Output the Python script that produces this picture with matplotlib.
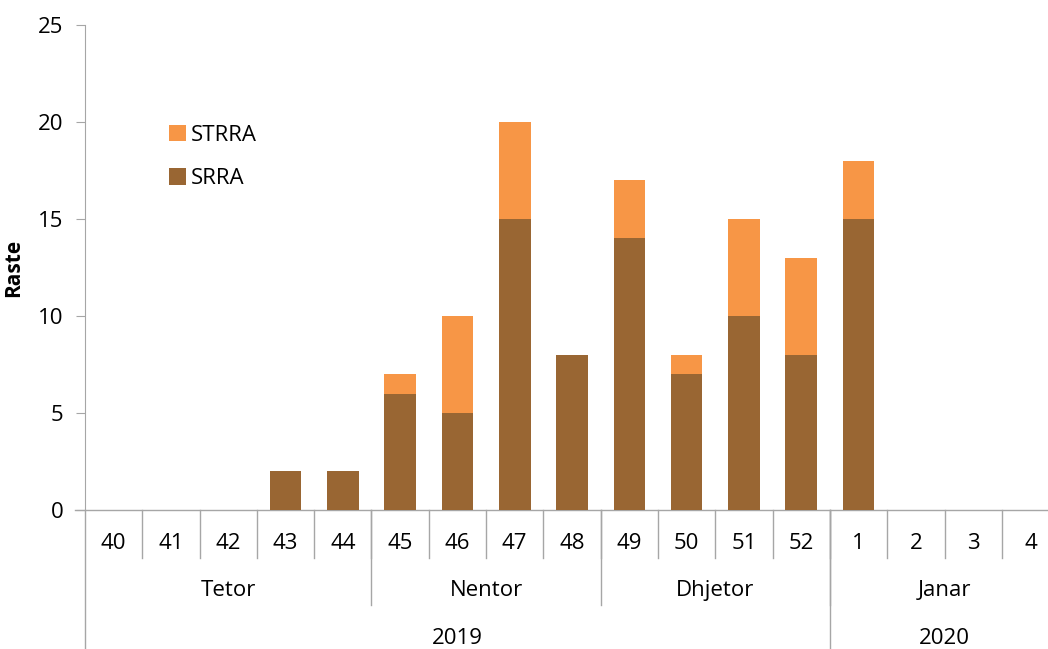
import numpy as np
import matplotlib.pyplot as plt
from matplotlib.transforms import blended_transform_factory

# Datos del grafico
javet = ['40', '41', '42', '43', '44', '45', '46', '47', '48',
         '49', '50', '51', '52', '1', '2', '3', '4']
srra = [0, 0, 0, 2, 2, 6, 5, 15, 8, 14, 7, 10, 8, 15, 0, 0, 0]
strra = [0, 0, 0, 0, 0, 1, 5, 5, 0, 3, 1, 5, 5, 3, 0, 0, 0]
muajt = ['Tetor', 'Nentor', 'Dhjetor', 'Janar']
muaj_n = [5, 4, 4, 4]
vitet = ['2019', '2020']
vit_n = [13, 4]

plt.rcParams['font.family'] = ['Open Sans', 'DejaVu Sans']
gris = '#a6a6a6'
fs = 16

fig = plt.figure(figsize=(10.48, 6.49), dpi=100)
ax = fig.add_axes([0.0811, 0.2142, 0.9295, 0.7473])

x = np.arange(len(javet))
ax.bar(x, srra, width=0.55, color='#996633', label='SRRA', zorder=3)
ax.bar(x, strra, width=0.55, bottom=srra, color='#F79646', label='STRRA', zorder=3)

ax.set_xlim(-0.5, len(javet) - 0.5)
ax.set_ylim(0, 25)
ax.set_yticks(range(0, 26, 5))
ax.tick_params(axis='y', length=6.5, color=gris, labelsize=fs, pad=9)
ax.set_xticks([])
for s in ['top', 'right', 'bottom']:
    ax.spines[s].set_visible(False)
ax.spines['left'].set_color(gris)
ax.set_ylabel('Raste', fontsize=15, fontweight='bold', labelpad=10)

# Eje de categorias con varios niveles
tr = blended_transform_factory(ax.transData, ax.transAxes)
ax.plot([-0.68, len(javet) - 0.5], [0, 0], color=gris, lw=1, transform=tr, clip_on=False)
ax.plot([-0.5, -0.5], [0, -0.29], color=gris, lw=1, transform=tr, clip_on=False)
for i, j in enumerate(javet):
    ax.text(i, -0.07, j, ha='center', va='center', fontsize=fs, transform=tr)
    if i > 0:
        ax.plot([i - 0.5, i - 0.5], [0, -0.099], color=gris, lw=1, transform=tr, clip_on=False)

inicio = 0
for m, n in zip(muajt, muaj_n):
    ax.text(inicio + n / 2 - 0.5, -0.167, m, ha='center', va='center', fontsize=fs, transform=tr)
    if inicio > 0:
        ax.plot([inicio - 0.5, inicio - 0.5], [0, -0.196], color=gris, lw=1, transform=tr, clip_on=False)
    inicio += n

inicio = 0
for v, n in zip(vitet, vit_n):
    ax.text(inicio + n / 2 - 0.5, -0.264, v, ha='center', va='center', fontsize=fs, transform=tr)
    if inicio > 0:
        ax.plot([inicio - 0.5, inicio - 0.5], [0, -0.29], color=gris, lw=1, transform=tr, clip_on=False)
    inicio += n

h, l = ax.get_legend_handles_labels()
ax.legend(h[::-1], l[::-1], loc='upper left', bbox_to_anchor=(0.066, 0.835),
          frameon=False, fontsize=fs, handlelength=0.75, handleheight=0.75,
          handletextpad=0.2, labelspacing=1.0)

plt.savefig('out.png', dpi=100)
